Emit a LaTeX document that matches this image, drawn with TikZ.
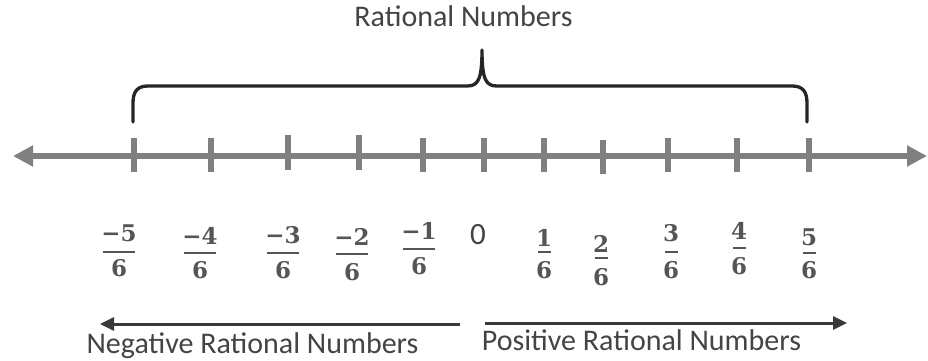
\documentclass[tikz,border=0pt]{standalone}
\usepackage{fontspec}
\setmainfont{Carlito}
\newfontfamily\fracfont{DejaVu Serif}
\usetikzlibrary{arrows.meta}
\definecolor{axisgray}{HTML}{808080}
\definecolor{bracecol}{HTML}{262626}
\definecolor{arrcol}{HTML}{3A3A3A}
\definecolor{txtgray}{HTML}{444444}
\definecolor{fracgray}{HTML}{555555}
\tikzset{
  axisline/.style={draw=axisgray, line width=6pt, {Triangle[length=20pt,width=20pt]}-{Triangle[length=20pt,width=20pt]}},
  tickmark/.style={draw=axisgray, line width=5.5pt},
  bracepath/.style={draw=bracecol, line width=3.3pt, line cap=round, line join=round},
  sidearrow/.style={draw=arrcol, line width=3pt, -{Triangle[length=14pt,width=13pt]}},
  label/.style={text=txtgray, font=\fontsize{30pt}{30pt}\selectfont, inner sep=0pt, anchor=base},
  digit/.style={text=fracgray, font=\fontsize{23pt}{23pt}\fracfont\bfseries\selectfont, inner sep=0pt},
  fbar/.style={fill=fracgray, inner sep=0pt, minimum height=#1},
  zero/.style={text=txtgray, font=\fontsize{31pt}{31pt}\selectfont, inner sep=0pt}
}
\begin{document}
\begin{tikzpicture}[x=1pt,y=-1pt]
\useasboundingbox (0,0) rectangle (928,361);
% title
\node[label] (title) at (463.5,27) {Rational Numbers};
% brace
\coordinate (bL) at (133,122);
\coordinate (bR) at (807,122);
\coordinate (bP) at (482,50);
\draw[bracepath] (bL) -- (133,103) .. controls (133,92) and (137,86) .. (148,86)
  -- (467,86) .. controls (478,86) and (482,80) .. (bP)
  .. controls (482,80) and (486,86) .. (497,86)
  -- (792,86) .. controls (803,86) and (807,92) .. (807,103) -- (bR);
% number line
\coordinate (axL) at (13,156);
\coordinate (axR) at (927,156);
\draw[axisline] (axL) -- (axR);
\foreach \x/\t/\b in {134/138/172, 211/138/172, 288/135/170, 359/135/170, 423/138/172, 484/138/172, 544/138/172, 603/140/174, 668/138/172, 737/138/172, 809/138/172}
  \draw[tickmark] (\x,\t) -- (\x,\b);
% fractions: name/x/numerator y/bar y/denominator y/numerator/bar width/bar thickness
\foreach \n/\x/\ny/\by/\dy/\num/\bw/\bt in {
  a/119/233/252/268/{−5}/32/2.2,
  b/200/236/253/270/{−4}/32/2.2,
  c/283/235/253/270/{−3}/32/2.2,
  d/352/237/254/272/{−2}/32/2.2,
  e/419/231/249/266/{−1}/32/2.2,
  f/544/238/252/270/1/13/1.6,
  g/601/244/258/277/2/13/1.6,
  h/671/233/252/270/3/13/1.6,
  i/739/231/248/266/4/13/1.6,
  j/809/237/253/270/5/13/1.6}{
  \node[digit] (num\n) at (\x,\ny) {\num};
  \node[fbar=\bt pt, minimum width=\bw pt] (bar\n) at (\x,\by) {};
  \node[digit] (den\n) at (\x,\dy) {6};
}
\node[zero] (zero) at (478,235) {0};
% side arrows
\coordinate (negS) at (460,324);
\coordinate (negE) at (100,324);
\coordinate (posS) at (485,323);
\coordinate (posE) at (847,323);
\draw[sidearrow] (negS) -- (negE);
\draw[sidearrow] (posS) -- (posE);
\node[label] (neglab) at (252.5,353) {Negative Rational Numbers};
\node[label] (poslab) at (641.5,350) {Positive Rational Numbers};
\end{tikzpicture}
\end{document}
